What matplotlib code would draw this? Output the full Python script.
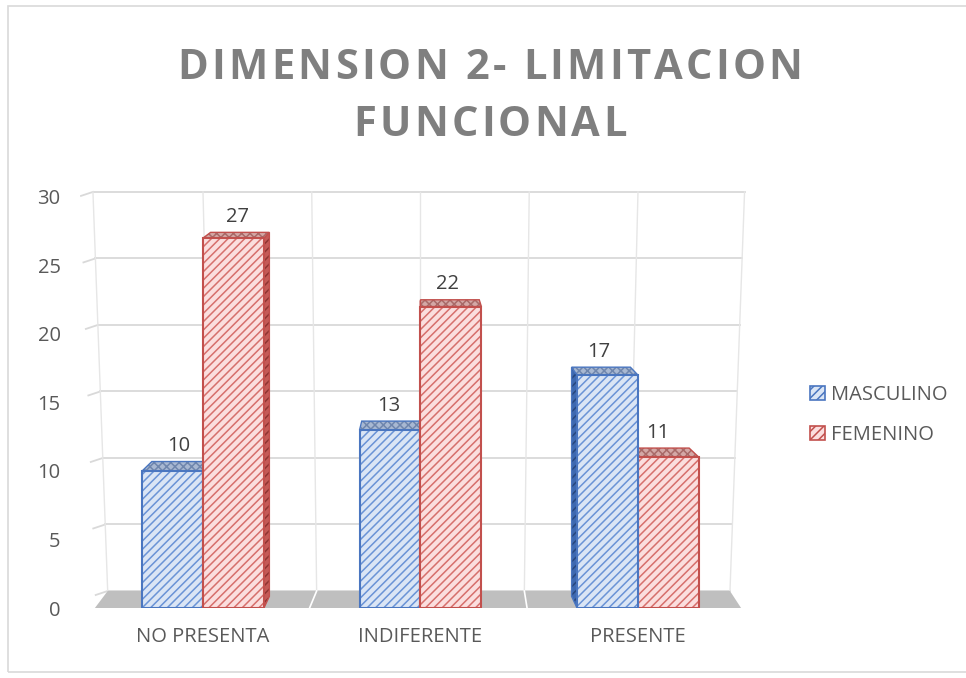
import numpy as np
import matplotlib.pyplot as plt
from matplotlib.patches import Polygon, Patch, Rectangle

# datos del grafico
categorias = ['NO PRESENTA', 'INDIFERENTE', 'PRESENTE']
masculino = [10, 13, 17]
femenino = [27, 22, 11]
series = ['MASCULINO', 'FEMENINO']
yticks = [0, 5, 10, 15, 20, 25, 30]
titulo = ['DIMENSION 2- LIMITACION', 'FUNCIONAL']

plt.rcParams['font.family'] = ['Open Sans', 'DejaVu Sans']
plt.rcParams['hatch.linewidth'] = 1.1

W, H = 966, 678
fig = plt.figure(figsize=(W / 100, H / 100), dpi=100)
fig.patches.append(Rectangle((8 / W, 6 / H), 1, 666 / H, transform=fig.transFigure,
                             fill=False, edgecolor='#d9d9d9', lw=1.2))

ax = fig.add_axes([80 / W, 70 / H, 680 / W, 428 / H])
ax.set_xlim(-0.5655, 2.561)
ax.set_ylim(0, 31.24)
for s in ax.spines.values():
    s.set_visible(False)

grid_c = '#d9d9d9'
wall_dy, wall_k = 1.24, 0.971


def wall(x, v):
    # back wall point (perspective: narrower at the bottom)
    s = 0.955 + 0.045 * v / 30
    return 1.0 + (x - 1.0) * s, wall_dy + wall_k * v


# back wall gridlines
xl, xr = -0.506, 2.49
for v in yticks:
    a, b = wall(xl, v), wall(xr, v)
    ax.plot([a[0], b[0]], [a[1], b[1]], color=grid_c, lw=1.3, zorder=1)
    ax.plot([a[0] - 0.055, a[0]], [a[1] - 0.29, a[1]], color=grid_c, lw=1.3, zorder=1)
for x in [xl, 0, 0.5, 1, 1.5, 2, xr]:
    a, b = wall(x, 0), wall(x, 30)
    ax.plot([a[0], b[0]], [a[1], b[1]], color='#e6e6e6', lw=1.0, zorder=1)

# floor
fl, fr = wall(xl, 0), wall(xr, 0)
ax.add_patch(Polygon([(-0.497, 0), (2.474, 0), fr, fl], closed=True,
                     facecolor='#bfbfbf', edgecolor='none', zorder=2))
for x in [0.5, 1.5]:
    p = wall(x, 0)
    ax.plot([x - 0.01, p[0]], [0, p[1]], color='white', lw=1.2, zorder=2)

# bars
w = 0.28
estilos = [
    dict(bg='#dae5f5', hatch='#6a93d6', edge='#4a76c0', top='#a8b8d2', top_h='#6f86ad',
         side='#3d68b0', side_h='#27467d'),
    dict(bg='#fbdede', hatch='#d66f6c', edge='#c2504d', top='#d4a8a6', top_h='#a86a68',
         side='#c45a57', side_h='#8f3331'),
]


def bx(x):
    return x + 0.035 * (1.0 - x)


def by(y):
    return y + 0.85 - 0.016 * y


valores = [masculino, femenino]
for i in range(len(categorias)):
    orden = [0, 1] if i <= 1 else [1, 0]
    for j in orden:
        st = estilos[j]
        h = valores[j][i]
        x0 = i - w + j * w
        x1 = x0 + w
        z = 3 + (0 if (i == 2 and j == 1) else j) + (2 if (i == 2 and j == 0) else 0)
        xs = x1 if (x0 + x1) / 2 < 1 else x0
        side = [(xs, 0), (xs, h), (bx(xs), by(h)), (bx(xs), by(0))]
        ax.add_patch(Polygon(side, closed=True, facecolor=st['side'], edgecolor=st['side_h'],
                             hatch='////', lw=0, zorder=z))
        ax.add_patch(Polygon(side, closed=True, fill=False, edgecolor=st['edge'], lw=1.0, zorder=z))
        top = [(x0, h), (x1, h), (bx(x1), by(h)), (bx(x0), by(h))]
        ax.add_patch(Polygon(top, closed=True, facecolor=st['top'], edgecolor=st['top_h'],
                             hatch='xxxx', lw=0, zorder=z))
        ax.add_patch(Polygon(top, closed=True, fill=False, edgecolor=st['edge'], lw=1.0, zorder=z))
        ax.bar([x0], [h], width=w, align='edge', color=st['bg'], edgecolor=st['hatch'],
               hatch='////', lw=0, zorder=z)
        ax.bar([x0], [h], width=w, align='edge', fill=False, edgecolor=st['edge'], lw=1.5, zorder=z)
        ax.text(bx((x0 + x1) / 2) - 0.01, by(h) + 0.4, str(h), ha='center', va='bottom',
                fontsize=14.5, color='#404040', zorder=10)

ax.set_xticks(range(len(categorias)))
ax.set_xticklabels(categorias, fontsize=14.5, color='#595959')
ax.set_yticks(yticks)
ax.set_yticklabels([str(v) for v in yticks], fontsize=14.5, color='#595959')
ax.tick_params(axis='x', length=0, pad=14)
ax.tick_params(axis='y', length=0, pad=14)

# legend
handles = [Patch(facecolor=estilos[k]['bg'], edgecolor=estilos[k]['edge'], hatch='////', lw=1.2)
           for k in range(2)]
fig.legend(handles, series, loc='center left', bbox_to_anchor=(792 / W, 1 - 415 / H),
           frameon=False, fontsize=14.5, handlelength=0.75, handleheight=0.75,
           handletextpad=0.3, labelspacing=1.0, labelcolor='#595959')

# title with letter spacing
r = fig.canvas.get_renderer()
size = 30


def anchos(texto):
    res = []
    for ch in texto:
        if ch == ' ':
            res.append(size * 100 / 72 * 0.26)
            continue
        t = fig.text(0, 0, ch, fontsize=size, fontweight='bold')
        res.append(t.get_window_extent(r).width)
        t.remove()
    return res


w1 = anchos(titulo[0])
esp = (625 - sum(w1)) / (len(titulo[0]) - 1)
for linea, base in zip(titulo, [79, 136]):
    ws = anchos(linea)
    total = sum(ws) + esp * (len(linea) - 1)
    x = 490 - total / 2
    for ch, cw in zip(linea, ws):
        fig.text(x / W, 1 - base / H, ch, fontsize=size, fontweight='bold',
                 color='#7f7f7f', va='baseline', ha='left')
        x += cw + esp

fig.savefig('out.png', dpi=100)
